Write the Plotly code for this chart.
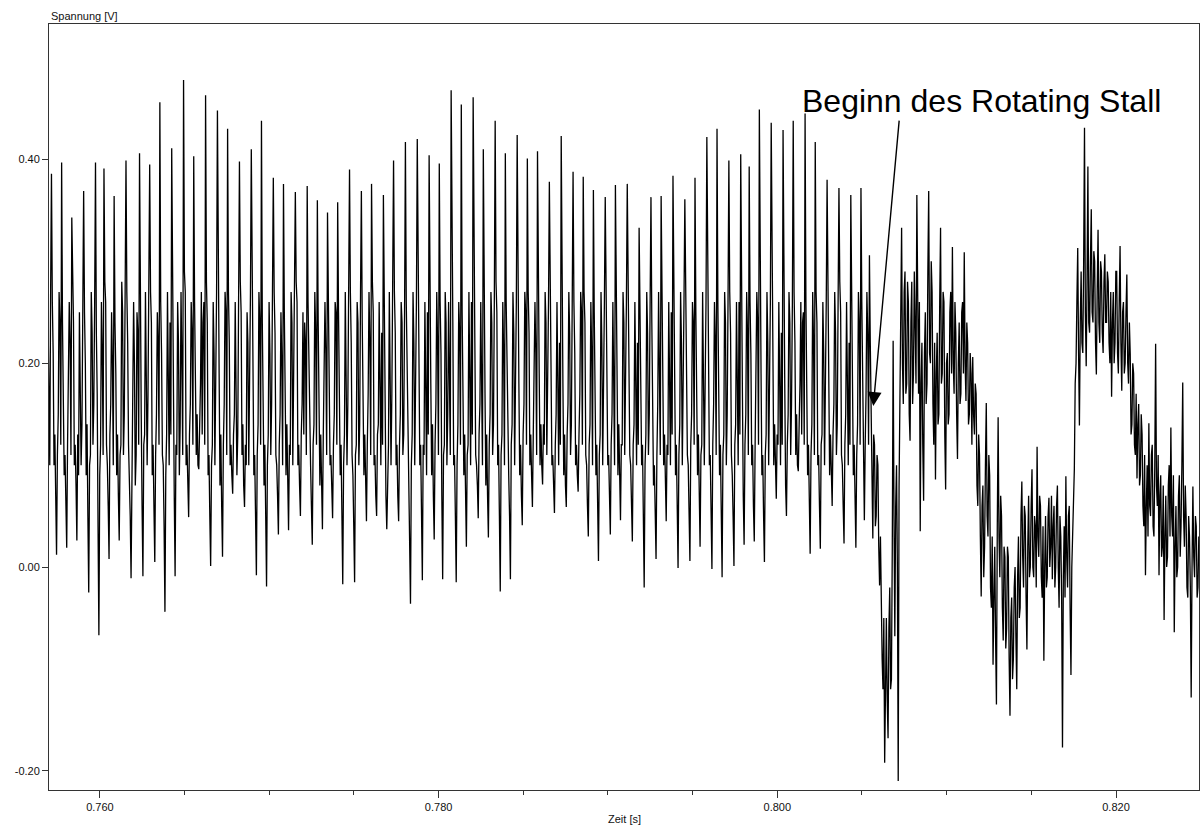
import numpy as np
import plotly.graph_objects as go

# Abtastung des Drucksensorsignals
zeit_start = 0.75694       # s, erster Abtastwert
abtastintervall = 0.00005  # s

# Periodischer Abschnitt: je Zeile ein Schaufeldurchgang (Spitze, Band, Mulde)
spannung_vor_stall = [
    0.24, 0.12, 0.10, 0.27,
    0.386, 0.26, 0.21, 0.10, 0.13, 0.07, 0.012, 0.11, 0.15, 0.27, 0.24, 0.12,
    0.397, 0.24, 0.18, 0.09, 0.11, 0.06, 0.019, 0.12, 0.17, 0.26, 0.22, 0.11,
    0.343, 0.27, 0.24, 0.10, 0.12, 0.08, 0.026, 0.13, 0.09, 0.25, 0.19, 0.10, 0.14, 0.28,
    0.369, 0.25, 0.20, 0.09, 0.14, 0.05, -0.025, 0.10, 0.11, 0.27, 0.23, 0.12, 0.16, 0.26,
    0.397, 0.23, 0.17, 0.04, -0.067, 0.09, 0.12, 0.26, 0.21, 0.11,
    0.391, 0.28, 0.26, 0.12, 0.10, 0.06, 0.008, 0.13, 0.16, 0.25, 0.20, 0.10,
    0.364, 0.24, 0.19, 0.09, 0.13, 0.07, 0.026, 0.11, 0.12, 0.28, 0.25, 0.11, 0.15, 0.27,
    0.399, 0.27, 0.22, 0.12, 0.09, 0.05, -0.011, 0.10, 0.14, 0.26, 0.20, 0.08, 0.11, 0.25, 0.23, 0.12,
    0.406, 0.24, 0.15, 0.06, -0.009, 0.12, 0.13, 0.27, 0.21, 0.10, 0.17, 0.26,
    0.395, 0.27, 0.24, 0.09, 0.12, 0.06, 0.005, 0.11, 0.15, 0.25, 0.22, 0.12,
    0.456, 0.26, 0.21, 0.11, 0.10, 0.04, -0.044, 0.09, 0.13, 0.27, 0.19, 0.10, 0.24, 0.13,
    0.411, 0.25, 0.17, 0.07, -0.009, 0.12, 0.11, 0.26, 0.22, 0.09, 0.14, 0.27, 0.20, 0.11,
    0.478, 0.29, 0.27, 0.10, 0.12, 0.08, 0.049, 0.13, 0.16, 0.26, 0.23, 0.12,
    0.403, 0.26, 0.20, 0.11, 0.15, 0.10, 0.096, 0.14, 0.18, 0.27, 0.13, 0.24, 0.26, 0.12,
    0.463, 0.28, 0.24, 0.09, 0.11, 0.05, 0.001, 0.10, 0.12, 0.26, 0.21, 0.10, 0.17, 0.27,
    0.448, 0.25, 0.19, 0.08, 0.13, 0.06, 0.010, 0.12, 0.16, 0.27, 0.25, 0.11,
    0.430, 0.27, 0.22, 0.10, 0.12, 0.09, 0.072, 0.13, 0.15, 0.26, 0.20, 0.09, 0.13, 0.25,
    0.398, 0.28, 0.25, 0.11, 0.14, 0.08, 0.059, 0.12, 0.10, 0.25, 0.22, 0.10, 0.18, 0.27,
    0.410, 0.26, 0.20, 0.09, 0.11, 0.05, -0.008, 0.11, 0.14, 0.27, 0.24, 0.12,
    0.438, 0.24, 0.18, 0.08, 0.12, 0.05, -0.019, 0.10, 0.13, 0.26, 0.21, 0.11, 0.16, 0.27,
    0.382, 0.27, 0.23, 0.11, 0.10, 0.07, 0.032, 0.12, 0.15, 0.25, 0.20, 0.10,
    0.376, 0.25, 0.19, 0.09, 0.14, 0.07, 0.036, 0.12, 0.11, 0.27, 0.24, 0.10, 0.17, 0.26,
    0.368, 0.28, 0.26, 0.10, 0.12, 0.08, 0.050, 0.13, 0.16, 0.25, 0.13, 0.24, 0.22, 0.11,
    0.374, 0.26, 0.20, 0.11, 0.10, 0.06, 0.022, 0.12, 0.14, 0.27, 0.23, 0.12,
    0.360, 0.24, 0.17, 0.08, 0.13, 0.07, 0.037, 0.13, 0.18, 0.26, 0.21, 0.11,
    0.348, 0.27, 0.24, 0.10, 0.11, 0.08, 0.048, 0.12, 0.15, 0.26, 0.25, 0.12,
    0.358, 0.25, 0.19, 0.09, 0.12, 0.05, -0.017, 0.10, 0.13, 0.27, 0.20, 0.10, 0.16, 0.26,
    0.390, 0.27, 0.22, 0.11, 0.09, 0.04, -0.015, 0.11, 0.12, 0.26, 0.24, 0.10, 0.14, 0.27,
    0.369, 0.24, 0.18, 0.09, 0.13, 0.08, 0.045, 0.12, 0.17, 0.27, 0.22, 0.11,
    0.376, 0.28, 0.25, 0.10, 0.11, 0.07, 0.050, 0.13, 0.14, 0.26, 0.19, 0.10, 0.23, 0.12,
    0.365, 0.24, 0.16, 0.07, 0.037, 0.11, 0.12, 0.27, 0.21, 0.10, 0.17, 0.26,
    0.399, 0.27, 0.23, 0.10, 0.12, 0.07, 0.045, 0.12, 0.15, 0.26, 0.24, 0.11, 0.13, 0.25,
    0.417, 0.26, 0.20, 0.11, 0.10, 0.04, -0.036, 0.10, 0.13, 0.27, 0.22, 0.10, 0.18, 0.26,
    0.420, 0.28, 0.26, 0.10, 0.12, 0.05, -0.013, 0.12, 0.11, 0.26, 0.19, 0.09, 0.25, 0.13,
    0.404, 0.25, 0.18, 0.09, 0.14, 0.07, 0.027, 0.12, 0.16, 0.27, 0.22, 0.11,
    0.396, 0.26, 0.21, 0.07, -0.012, 0.11, 0.12, 0.27, 0.24, 0.10, 0.15, 0.26, 0.20, 0.11,
    0.468, 0.28, 0.24, 0.10, 0.11, 0.05, -0.015, 0.10, 0.14, 0.26, 0.23, 0.12,
    0.454, 0.25, 0.19, 0.09, 0.13, 0.06, 0.020, 0.11, 0.12, 0.27, 0.21, 0.10, 0.26, 0.13,
    0.461, 0.27, 0.22, 0.11, 0.10, 0.08, 0.048, 0.13, 0.16, 0.26, 0.20, 0.10,
    0.410, 0.24, 0.17, 0.08, 0.13, 0.07, 0.029, 0.12, 0.15, 0.27, 0.24, 0.11, 0.14, 0.26,
    0.438, 0.28, 0.25, 0.10, 0.12, 0.05, -0.024, 0.11, 0.13, 0.26, 0.21, 0.10,
    0.406, 0.26, 0.20, 0.11, 0.09, 0.05, -0.012, 0.12, 0.14, 0.27, 0.23, 0.10, 0.17, 0.26,
    0.424, 0.25, 0.18, 0.09, 0.12, 0.07, 0.041, 0.13, 0.16, 0.27, 0.25, 0.12,
    0.401, 0.27, 0.23, 0.10, 0.13, 0.09, 0.059, 0.13, 0.18, 0.26, 0.21, 0.11,
    0.408, 0.25, 0.19, 0.10, 0.14, 0.10, 0.081, 0.14, 0.12, 0.27, 0.24, 0.11, 0.17, 0.26,
    0.378, 0.28, 0.26, 0.10, 0.11, 0.08, 0.053, 0.12, 0.15, 0.26, 0.20, 0.10, 0.22, 0.12,
    0.423, 0.25, 0.18, 0.09, 0.13, 0.08, 0.059, 0.13, 0.16, 0.27, 0.23, 0.11, 0.14, 0.26,
    0.388, 0.26, 0.21, 0.10, 0.12, 0.09, 0.074, 0.13, 0.17, 0.27, 0.25, 0.12,
    0.383, 0.27, 0.24, 0.11, 0.10, 0.06, 0.030, 0.12, 0.14, 0.26, 0.21, 0.10,
    0.370, 0.25, 0.19, 0.09, 0.12, 0.05, 0.006, 0.11, 0.13, 0.27, 0.22, 0.10, 0.16, 0.26,
    0.363, 0.27, 0.23, 0.10, 0.11, 0.07, 0.032, 0.12, 0.15, 0.26, 0.20, 0.10,
    0.375, 0.25, 0.18, 0.09, 0.14, 0.08, 0.046, 0.12, 0.12, 0.27, 0.24, 0.11, 0.17, 0.26,
    0.376, 0.28, 0.25, 0.11, 0.10, 0.06, 0.025, 0.12, 0.14, 0.26, 0.19, 0.10, 0.22, 0.12,
    0.333, 0.26, 0.20, 0.10, 0.12, 0.05, -0.020, 0.10, 0.13, 0.27, 0.23, 0.11, 0.15, 0.26,
    0.363, 0.24, 0.17, 0.08, 0.10, 0.05, 0.008, 0.11, 0.16, 0.27, 0.21, 0.11,
    0.364, 0.27, 0.24, 0.10, 0.13, 0.08, 0.045, 0.12, 0.11, 0.26, 0.20, 0.10, 0.25, 0.13,
    0.384, 0.25, 0.19, 0.09, 0.12, 0.05, -0.001, 0.11, 0.14, 0.27, 0.22, 0.10, 0.16, 0.26,
    0.361, 0.27, 0.22, 0.11, 0.10, 0.05, 0.006, 0.12, 0.15, 0.26, 0.24, 0.12,
    0.382, 0.25, 0.18, 0.09, 0.13, 0.06, 0.020, 0.11, 0.12, 0.27, 0.21, 0.10, 0.18, 0.26,
    0.422, 0.28, 0.25, 0.10, 0.11, 0.05, -0.002, 0.12, 0.16, 0.26, 0.22, 0.11,
    0.430, 0.26, 0.20, 0.09, 0.12, 0.05, -0.010, 0.11, 0.13, 0.27, 0.24, 0.10, 0.15, 0.26,
    0.399, 0.27, 0.23, 0.11, 0.09, 0.05, 0.001, 0.12, 0.14, 0.26, 0.19, 0.10, 0.26, 0.13,
    0.405, 0.24, 0.17, 0.07, 0.022, 0.12, 0.15, 0.27, 0.23, 0.11,
    0.393, 0.26, 0.21, 0.10, 0.12, 0.06, 0.025, 0.12, 0.18, 0.27, 0.24, 0.12,
    0.449, 0.25, 0.19, 0.09, 0.11, 0.05, 0.005, 0.11, 0.13, 0.27, 0.22, 0.10, 0.17, 0.26,
    0.436, 0.28, 0.26, 0.10, 0.14, 0.09, 0.067, 0.13, 0.12, 0.26, 0.20, 0.10, 0.23, 0.12,
    0.429, 0.25, 0.18, 0.08, 0.050, 0.12, 0.15, 0.27, 0.24, 0.11, 0.16, 0.26,
    0.438, 0.27, 0.22, 0.11, 0.15, 0.10, 0.094, 0.14, 0.18, 0.26, 0.13, 0.24, 0.25, 0.12,
    0.445, 0.26, 0.20, 0.09, 0.12, 0.06, 0.013, 0.11, 0.14, 0.27, 0.22, 0.11,
    0.417, 0.27, 0.24, 0.10, 0.11, 0.06, 0.018, 0.12, 0.13, 0.26, 0.21, 0.10, 0.17, 0.26,
    0.380, 0.25, 0.19, 0.09, 0.13, 0.08, 0.060, 0.13, 0.16, 0.27, 0.23, 0.11, 0.14, 0.26,
    0.372, 0.28, 0.25, 0.11, 0.10, 0.06, 0.023, 0.12, 0.15, 0.26, 0.20, 0.10, 0.22, 0.12,
    0.365, 0.25, 0.18, 0.09, 0.12, 0.06, 0.019, 0.11, 0.14, 0.27, 0.24, 0.12,
    0.372, 0.26, 0.20, 0.09, 0.046, 0.12, 0.17, 0.27, 0.23, 0.12,
]

# Einbruch und Rotating-Stall-Zellen
spannung_stall = [
    0.306, 0.22, 0.15, 0.07, 0.028, 0.13, 0.12, 0.04, 0.05, 0.11,
    0.10, 0.02, -0.018, 0.03, -0.06, -0.09, -0.12, -0.05, -0.192, -0.10,
    -0.05, -0.13, -0.168, -0.06, -0.02, -0.12, -0.11, 0.02, 0.222, 0.05,
    -0.068, 0.06, 0.10, 0.00, -0.21, 0.08, 0.17, 0.24, 0.333, 0.20,
    0.16, 0.27, 0.29, 0.17, 0.18, 0.28, 0.26, 0.15, 0.124, 0.24,
    0.28, 0.16, 0.19, 0.29, 0.25, 0.18, 0.365, 0.22, 0.17, 0.26,
    0.035, 0.18, 0.22, 0.12, 0.065, 0.21, 0.25, 0.16, 0.18, 0.29,
    0.369, 0.21, 0.20, 0.30, 0.27, 0.16, 0.12, 0.22, 0.086, 0.19,
    0.23, 0.14, 0.15, 0.26, 0.333, 0.18, 0.19, 0.27, 0.26, 0.13,
    0.076, 0.20, 0.21, 0.14, 0.15, 0.25, 0.27, 0.19, 0.314, 0.20,
    0.17, 0.26, 0.23, 0.15, 0.106, 0.20, 0.24, 0.16, 0.17, 0.25,
    0.26, 0.19, 0.309, 0.20, 0.163, 0.24, 0.22, 0.14, 0.15, 0.21,
    0.19, 0.12, 0.206, 0.15, 0.13, 0.18, 0.17, 0.08, 0.06, 0.13,
    0.11, 0.03, -0.029, 0.06, 0.08, -0.01, 0.02, 0.10, 0.161, 0.05,
    0.03, 0.11, 0.09, -0.02, -0.04, 0.03, -0.096, -0.03, 0.02, -0.07,
    -0.135, 0.04, 0.147, 0.03, -0.01, 0.07, 0.05, -0.04, -0.072, 0.02,
    0.01, -0.08, -0.06, 0.02, 0.01, -0.09, -0.146, -0.05, -0.03, -0.11,
    -0.09, -0.02, 0.00, -0.07, -0.12, -0.01, 0.03, -0.05, -0.04, 0.05,
    0.084, 0.01, -0.02, 0.06, 0.05, -0.03, -0.081, 0.02, 0.07, -0.01,
    0.00, 0.06, 0.096, 0.00, -0.01, 0.05, 0.04, -0.02, 0.118, 0.03,
    0.01, 0.07, 0.06, -0.01, -0.03, 0.04, -0.092, 0.00, 0.05, -0.02,
    -0.01, 0.05, 0.068, 0.00, 0.02, 0.07, -0.012, 0.04, 0.06, -0.02,
    0.00, 0.06, 0.08, 0.00, -0.04, 0.05, 0.03, -0.03, -0.177, -0.01,
    0.04, -0.03, 0.089, 0.01, -0.02, 0.05, 0.06, -0.04, -0.106, 0.00,
    0.03, 0.07, 0.096, 0.18, 0.20, 0.26, 0.313, 0.21, 0.139, 0.24,
    0.29, 0.22, 0.21, 0.30, 0.431, 0.25, 0.197, 0.28, 0.393, 0.24,
    0.23, 0.30, 0.351, 0.25, 0.24, 0.31, 0.30, 0.22, 0.189, 0.27,
    0.331, 0.24, 0.22, 0.30, 0.29, 0.23, 0.21, 0.28, 0.307, 0.24,
    0.24, 0.29, 0.28, 0.22, 0.20, 0.27, 0.167, 0.24, 0.27, 0.20,
    0.22, 0.29, 0.29, 0.21, 0.19, 0.26, 0.315, 0.22, 0.173, 0.25,
    0.26, 0.19, 0.20, 0.25, 0.287, 0.20, 0.18, 0.24, 0.209, 0.13,
    0.14, 0.20, 0.19, 0.12, 0.11, 0.17, 0.087, 0.14, 0.16, 0.08,
    0.09, 0.15, 0.13, 0.06, 0.04, 0.11, -0.008, 0.06, 0.10, 0.03,
    0.141, 0.06, 0.05, 0.11, 0.12, 0.04, 0.03, 0.10, 0.219, 0.08,
    0.06, 0.11, -0.008, 0.07, 0.09, 0.01, 0.02, 0.08, -0.052, 0.03,
    0.07, 0.00, 0.01, 0.08, 0.10, 0.03, 0.137, 0.05, 0.03, 0.09,
    -0.064, 0.02, 0.06, -0.01, 0.00, 0.07, 0.09, 0.01, 0.04, 0.10,
    0.181, 0.05, 0.02, 0.08, 0.05, -0.02, -0.03, 0.05, 0.03, -0.02,
    -0.128, 0.00, 0.079, 0.01, -0.01, 0.05, 0.04, -0.03, -0.02, 0.03,
]

x_tickwerte = [0.76, 0.78, 0.80, 0.82]
x_ticktexte = ["0.760", "0.780", "0.800", "0.820"]
y_tickwerte = [-0.2, 0.0, 0.2, 0.4]
y_ticktexte = ["-0.20", "0.00", "0.20", "0.40"]

spannung = spannung_vor_stall + spannung_stall
zeit = zeit_start + abtastintervall * np.arange(len(spannung))

rahmen = "#333333"
schrift = "Liberation Sans, Arial, sans-serif"

fig = go.Figure()
fig.add_trace(go.Scatter(
    x=zeit, y=spannung, mode="lines",
    line=dict(color="#000000", width=1.3),
    hoverinfo="skip", showlegend=False,
))

achse = dict(
    showline=True, linecolor=rahmen, linewidth=1, mirror=True,
    showgrid=False, zeroline=False, ticks="outside", tickcolor=rahmen,
    tickfont=dict(family=schrift, size=11, color="#111111"),
)

fig.update_xaxes(
    range=[0.756994, 0.824901],
    tickvals=x_tickwerte, ticktext=x_ticktexte, ticklen=7,
    minor=dict(dtick=0.005, tick0=0.76, ticks="outside", ticklen=4,
               tickcolor=rahmen, showgrid=False),
    **achse,
)
fig.update_yaxes(
    range=[-0.2188, 0.5329],
    tickvals=y_tickwerte, ticktext=y_ticktexte, ticklen=6,
    **achse,
)

# Achsenbeschriftungen im Stil des Messprogramms
fig.add_annotation(
    text="Spannung [V]", xref="paper", yref="paper", x=0, y=1.0,
    xanchor="left", yanchor="bottom", showarrow=False,
    font=dict(family=schrift, size=11, color="#111111"),
)
fig.add_annotation(
    text="Zeit [s]", xref="paper", yref="paper", x=0.5, y=-0.0275,
    xanchor="center", yanchor="top", showarrow=False,
    font=dict(family=schrift, size=11, color="#111111"),
)

# Markierung des Stall-Beginns
fig.add_annotation(
    text="Beginn des Rotating Stall", xref="x", yref="y",
    x=0.81206, y=0.4573, xanchor="center", yanchor="middle",
    showarrow=False, font=dict(family=schrift, size=32, color="#000000"),
)
fig.add_annotation(
    text="", xref="x", yref="y", axref="x", ayref="y",
    x=0.805669, y=0.158, ax=0.807204, ay=0.4396,
    showarrow=True, arrowhead=2, arrowsize=2.0, arrowwidth=1.4,
    arrowcolor="#000000",
)

fig.update_layout(
    width=1200, height=826, autosize=False,
    margin=dict(l=49, r=1, t=24, b=36),
    paper_bgcolor="white", plot_bgcolor="white",
)

fig.write_html("out.html", config={"displayModeBar": False})
